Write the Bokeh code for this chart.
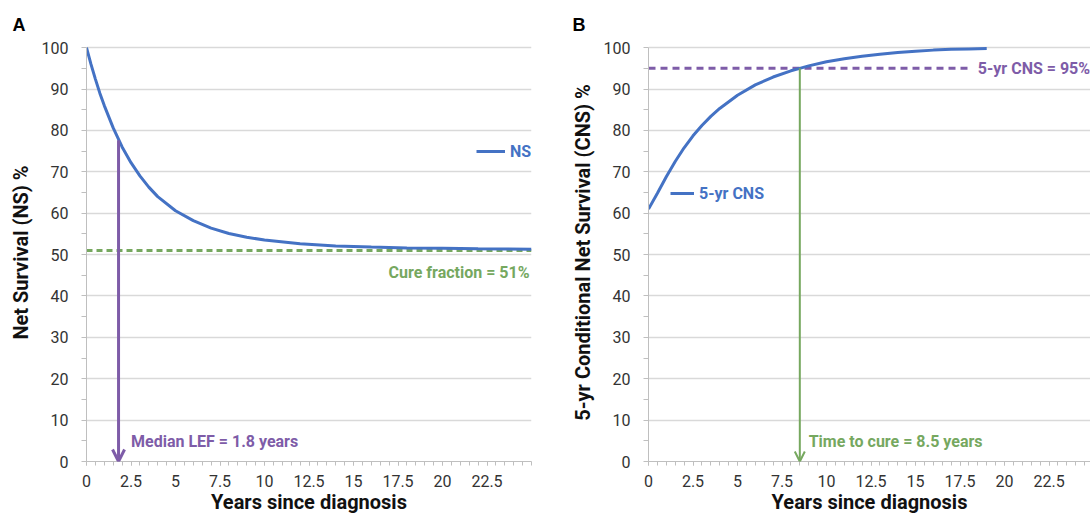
from bokeh.plotting import figure
from bokeh.layouts import row
from bokeh.models import (FixedTicker, Arrow, OpenHead, Label, Legend, LegendItem,
                          Range1d)
from bokeh.embed import file_html
from bokeh.resources import INLINE

# ---------------- data ----------------
years_ns = [0, 0.25, 0.5, 0.75, 1, 1.5, 2, 2.5, 3, 3.5, 4, 5, 6, 7, 8, 9, 10,
            12, 14, 16, 18, 20, 22, 25]
ns_values = [100, 96.0, 92.4, 89.0, 86.0, 80.6, 76.0, 72.2, 69.0, 66.3, 64.0,
             60.6, 58.2, 56.4, 55.1, 54.2, 53.5, 52.6, 52.1, 51.8, 51.6, 51.5,
             51.4, 51.3]

years_cns = [0, 0.5, 1, 1.5, 2, 2.5, 3, 3.5, 4, 5, 6, 7, 8, 8.5, 9, 10, 11, 12,
             13, 14, 15, 16, 17, 18, 19]
cns_values = [61.0, 64.8, 68.8, 72.5, 75.8, 78.7, 81.2, 83.4, 85.3, 88.5, 91.0,
              92.9, 94.4, 95.0, 95.6, 96.6, 97.3, 97.9, 98.4, 98.8, 99.1, 99.4,
              99.6, 99.7, 99.8]

cure_fraction = 51
median_lef = 1.8
ns_at_lef = 77.6
cns_threshold = 95
time_to_cure = 8.5

x_ticks = [0, 2.5, 5, 7.5, 10, 12.5, 15, 17.5, 20, 22.5]
x_tick_labels = ["0", "2.5", "5", "7.5", "10", "12.5", "15", "17.5", "20", "22.5"]
y_ticks = [0, 10, 20, 30, 40, 50, 60, 70, 80, 90, 100]
y_tick_labels = ["0", "10", "20", "30", "40", "50", "60", "70", "80", "90", "100"]

BLUE = "#4472C4"
PURPLE = "#7E5CA8"
GREEN = "#76A85F"
GRID = "#D9D9D9"
AXIS = "#BFBFBF"


def style(p, ylabel, panel, title_offset):
    p.outline_line_color = None
    p.xgrid.visible = False
    p.ygrid.ticker = FixedTicker(ticks=y_ticks)
    p.ygrid.grid_line_color = GRID
    p.ygrid.grid_line_width = 1.5

    xa = p.xaxis[0]
    xa.ticker = FixedTicker(ticks=x_ticks,
                            minor_ticks=[i * 0.5 for i in range(0, 51)])
    xa.major_label_overrides = {t: l for t, l in zip(x_ticks, x_tick_labels)}
    xa.axis_line_color = AXIS
    xa.major_tick_line_color = AXIS
    xa.minor_tick_line_color = AXIS
    xa.major_tick_out = 4
    xa.major_tick_in = 0
    xa.minor_tick_out = 4
    xa.minor_tick_in = 0
    xa.major_label_text_font = "Roboto"
    xa.major_label_text_font_size = "16px"
    xa.major_label_text_color = "#333333"
    xa.major_label_standoff = 9
    xa.axis_label = "Years since diagnosis"
    xa.axis_label_text_font = "Roboto"
    xa.axis_label_text_font_style = "bold"
    xa.axis_label_text_font_size = "20px"
    xa.axis_label_text_color = "#111111"
    xa.axis_label_standoff = 0

    ya = p.yaxis[0]
    ya.ticker = FixedTicker(ticks=y_ticks, minor_ticks=[5 + 10 * i for i in range(10)])
    ya.major_label_overrides = {t: l for t, l in zip(y_ticks, y_tick_labels)}
    ya.bounds = (0, 100)
    ya.axis_line_color = AXIS
    ya.major_tick_line_color = AXIS
    ya.minor_tick_line_color = AXIS
    ya.major_tick_out = 5
    ya.major_tick_in = 0
    ya.minor_tick_out = 5
    ya.minor_tick_in = 0
    ya.major_label_text_font = "Roboto"
    ya.major_label_text_font_size = "16px"
    ya.major_label_text_color = "#333333"
    ya.major_label_standoff = 13
    ya.axis_label = ylabel
    ya.axis_label_text_font = "Roboto"
    ya.axis_label_text_font_style = "bold"
    ya.axis_label_text_font_size = "20px"
    ya.axis_label_text_color = "#111111"
    ya.axis_label_standoff = 6

    p.title.text = panel
    p.title.align = "left"
    p.title.offset = title_offset
    p.title.text_font = "Liberation Sans"
    p.title.text_font_style = "bold"
    p.title.text_font_size = "18px"
    p.title.text_color = "#000000"
    p.title.standoff = 17


def legend(p, renderer, label, loc, glyph_w):
    lg = Legend(items=[LegendItem(label=label, renderers=[renderer])],
                location=loc, border_line_alpha=0, background_fill_alpha=0,
                padding=0, margin=0, glyph_width=glyph_w, glyph_height=20,
                label_height=20, label_standoff=5,
                label_text_font="Roboto", label_text_font_style="bold",
                label_text_font_size="16px", label_text_color=BLUE)
    p.add_layout(lg, "center")


# ---------------- panel A ----------------
pa = figure(width=541, height=516, x_range=Range1d(0, 25), y_range=Range1d(0, 101),
            output_backend="svg", toolbar_location=None,
            min_border_left=86, min_border_right=10, min_border_top=43,
            min_border_bottom=55)
style(pa, "Net Survival (NS) %", "A", -74)

pa.line([0, 25], [cure_fraction, cure_fraction], line_color=GREEN,
        line_width=3, line_dash="6 4")
ns_r = pa.line(years_ns, ns_values, line_color=BLUE, line_width=3)
pa.add_layout(Arrow(end=OpenHead(size=12, line_color=PURPLE, line_width=3),
                    x_start=median_lef, y_start=ns_at_lef,
                    x_end=median_lef, y_end=0,
                    line_color=PURPLE, line_width=3))
pa.add_layout(Label(x=2.5, y=4.8, text="Median LEF = %.1f years" % median_lef,
                    text_font="Roboto", text_font_style="bold",
                    text_font_size="16px", text_color=PURPLE,
                    text_baseline="middle"))
pa.add_layout(Label(x=25, y=45.6, x_offset=-2, text="Cure fraction = %d%%" % cure_fraction,
                    text_font="Roboto", text_font_style="bold",
                    text_font_size="16px", text_color=GREEN,
                    text_align="right", text_baseline="middle"))
legend(pa, ns_r, "NS", (390, 300), 29)

# ---------------- panel B ----------------
pb = figure(width=549, height=516, x_range=Range1d(0, 24.83), y_range=Range1d(0, 101),
            output_backend="svg", toolbar_location=None,
            min_border_left=107, min_border_right=0, min_border_top=43,
            min_border_bottom=55)
style(pb, "5-yr Conditional Net Survival (CNS) %", "B", -76)

pb.line([0, 18.2], [cns_threshold, cns_threshold], line_color=PURPLE,
        line_width=3, line_dash="7 5")
cns_r = pb.line(years_cns, cns_values, line_color=BLUE, line_width=3)
pb.add_layout(Arrow(end=OpenHead(size=10, line_color=GREEN, line_width=2),
                    x_start=time_to_cure, y_start=cns_threshold,
                    x_end=time_to_cure, y_end=0,
                    line_color=GREEN, line_width=2))
pb.add_layout(Label(x=9.0, y=4.8, text="Time to cure = %.1f years" % time_to_cure,
                    text_font="Roboto", text_font_style="bold",
                    text_font_size="16px", text_color=GREEN,
                    text_baseline="middle"))
pb.add_layout(Label(x=18.5, y=cns_threshold, text="5-yr CNS = %d%%" % cns_threshold,
                    text_font="Roboto", text_font_style="bold",
                    text_font_size="16px", text_color=PURPLE,
                    text_baseline="middle"))
legend(pb, cns_r, "5-yr CNS", (22, 258), 24)

layout = row(pa, pb)
open("out.html", "w").write(file_html(layout, INLINE))
